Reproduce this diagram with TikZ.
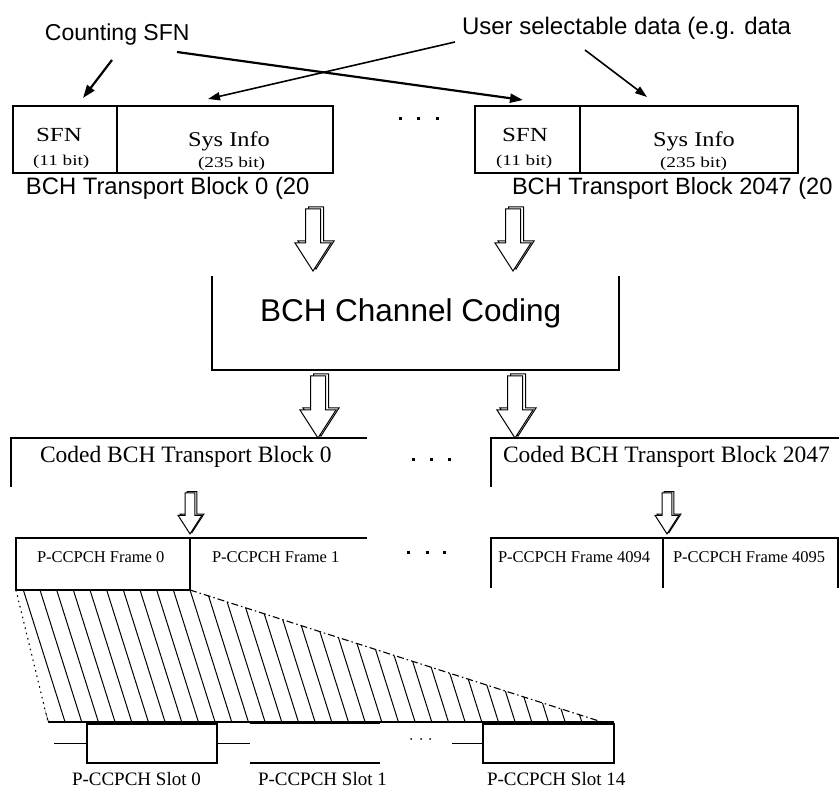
\documentclass[tikz,border=0pt]{standalone}
\usepackage{fontspec}
\setmainfont{Liberation Serif}
\setsansfont{Liberation Sans}
\usepackage{graphicx}
\usetikzlibrary{arrows.meta}
\newcommand{\wx}[2]{\scalebox{#1}[1]{#2}}
\newcommand{\fsz}[1]{\fontsize{#1}{#1}\selectfont}
\begin{document}
\begin{tikzpicture}[x=1pt,y=-1pt,
  thinline/.style={line width=1.2pt},
  box/.style={draw, line width=1.2pt, inner sep=0pt, outer sep=0pt, anchor=north west},
  frame/.style={inner sep=0pt, outer sep=0pt, anchor=north west},
  lbl/.style={inner sep=0pt, outer sep=0pt, anchor=base west},
  sanslbl/.style={lbl, font=\sffamily},
  ptr/.style={line width=1.6pt, -{Triangle[length=12pt,width=8pt]}},
  thickptr/.style={line width=2.2pt, -{Triangle[length=13pt,width=9pt]}},
  hatchline/.style={line width=1pt},
  dotsq/.style={fill=black},
  hollow arrow/.pic={
    \path[draw, line width=1pt, shift={(3,-2)}] (-7.5,0) -- (7.5,0) -- (7.5,34) -- (18,34) -- (0,62) -- (-18,34) -- (-7.5,34) -- cycle;
    \path[draw, fill=white, line width=1pt] (-7.5,0) -- (7.5,0) -- (7.5,34) -- (18,34) -- (0,62) -- (-18,34) -- (-7.5,34) -- cycle;
  }
]
\useasboundingbox[fill=white] (0,0) rectangle (839,791);

% ---------- top labels ----------
\node[sanslbl, font=\sffamily\fsz{23}] (cnt) at (45,41) {Counting SFN};
\node[sanslbl, font=\sffamily\fsz{24}] (usr) at (462,35) {User selectable data (e.g. data};

% ---------- transport blocks ----------
\node[box, minimum width=104pt, minimum height=67pt] (sfnA) at (13,106) {};
\node[box, minimum width=216pt, minimum height=67pt] (sysA) at (117,106) {};
\node[box, minimum width=105pt, minimum height=67pt] (sfnB) at (475,106) {};
\node[box, minimum width=218pt, minimum height=67pt] (sysB) at (580,106) {};

\node[lbl, font=\fsz{20}] (sfnAt) at (36,142) {\wx{1.25}{SFN}};
\node[lbl, font=\fsz{15}] (sfnAb) at (33,166) {\wx{1.28}{(11 bit)}};
\node[lbl, font=\fsz{21}] (sysAt) at (188,147) {\wx{1.16}{Sys Info}};
\node[lbl, font=\fsz{15}] (sysAb) at (198,168) {\wx{1.29}{(235 bit)}};
\node[lbl, font=\fsz{20}] (sfnBt) at (502,142) {\wx{1.25}{SFN}};
\node[lbl, font=\fsz{15}] (sfnBb) at (496,166) {\wx{1.28}{(11 bit)}};
\node[lbl, font=\fsz{21}] (sysBt) at (653,147) {\wx{1.16}{Sys Info}};
\node[lbl, font=\fsz{15}] (sysBb) at (660,168) {\wx{1.29}{(235 bit)}};

\node[sanslbl, font=\sffamily\fsz{23.8}] (tbA) at (26,195) {BCH Transport Block 0 (20};
\node[sanslbl, font=\sffamily\fsz{23.6}] (tbB) at (512,195) {BCH Transport Block 2047 (20};

\foreach \xx in {400,418,437} \fill[dotsq] ({\xx-1.5},117.5) rectangle ({\xx+1.5},120.5);

% ---------- pointers ----------
\coordinate (c1s) at (112,60);  \coordinate (c1e) at (83,98);
\coordinate (c2s) at (177,52);  \coordinate (c2e) at (523,100);
\coordinate (u1s) at (455,42);  \coordinate (u1e) at (208,99);
\coordinate (u2s) at (585,50);  \coordinate (u2e) at (647,97);
\draw[thickptr] (c1s) -- (c1e);
\draw[thickptr] (c2s) -- (c2e);
\draw[ptr] (u1s) -- (u1e);
\draw[ptr] (u2s) -- (u2e);

% ---------- channel coding ----------
\pic (ha1) at (313,209) {hollow arrow};
\pic (ha2) at (513,209) {hollow arrow};
\node[frame, minimum width=407pt, minimum height=94pt] (cc) at (212,276) {};
\draw[thinline] (cc.north west) -- (cc.south west) -- (cc.south east) -- (cc.north east);
\node[sanslbl, font=\sffamily\fsz{31.5}] (cct) at (260,322) {BCH Channel Coding};

% ---------- coded blocks ----------
\pic (ha3) at (318,376) {hollow arrow};
\pic (ha4) at (515,376) {hollow arrow};
\node[frame, minimum width=356pt, minimum height=49pt] (cb0) at (11,438) {};
\draw[thinline] (cb0.north east) -- (cb0.north west) -- (cb0.south west);
\node[frame, minimum width=348pt, minimum height=49pt] (cb1) at (491,438) {};
\draw[thinline] (cb1.north east) -- (cb1.north west) -- (cb1.south west);
\node[lbl, font=\fsz{23.5}] (cb0t) at (40,463) {Coded BCH Transport Block 0};
\node[lbl, font=\fsz{23.5}] (cb1t) at (503,463) {Coded BCH Transport Block 2047};
\foreach \xx in {413,431,449} \fill[dotsq] ({\xx-1.5},458.5) rectangle ({\xx+1.5},461.5);

% ---------- frames ----------
\pic[scale=0.66] (ha5) at (190,493) {hollow arrow};
\pic[scale=0.66] (ha6) at (667,493) {hollow arrow};
\node[box, minimum width=174pt, minimum height=52pt] (fr0) at (16,538) {};
\draw[line width=2.6pt] (fr0.north east) -- (fr0.south east);
\node[frame, minimum width=177pt, minimum height=52pt] (fr1) at (190,538) {};
\draw[thinline] (fr1.north west) -- (fr1.north east);
\node[frame, minimum width=172pt, minimum height=50pt] (fr4094) at (491,538) {};
\draw[thinline] (fr4094.south west) -- (fr4094.north west) -- (fr4094.north east) -- (fr4094.south east);
\node[frame, minimum width=175pt, minimum height=50pt] (fr4095) at (663,538) {};
\draw[thinline] (fr4095.north west) -- (fr4095.north east) -- (fr4095.south east);
\node[lbl, font=\fsz{16.5}] (fr0t) at (37,563) {P-CCPCH Frame 0};
\node[lbl, font=\fsz{16.5}] (fr1t) at (212,563) {P-CCPCH Frame 1};
\node[lbl, font=\fsz{16.5}] (fr4094t) at (498,563) {P-CCPCH Frame 4094};
\node[lbl, font=\fsz{16.5}] (fr4095t) at (673,563) {P-CCPCH Frame 4095};
\foreach \xx in {408,427,444} \fill[dotsq] ({\xx-1.5},551.5) rectangle ({\xx+1.5},554.5);

% ---------- expansion (hatched) ----------
\coordinate (hTL) at (16,590);
\coordinate (hTR) at (190,590);
\coordinate (hBR) at (602,722);
\coordinate (hBL) at (48,722);
\begin{scope}
  \clip (hTL) -- (hTR) -- (hBR) -- (hBL) -- cycle;
  \foreach \k in {-4,...,36} {
    \draw[hatchline] ({23.33+16.67*\k-1.58},585) -- ({23.33+16.67*\k+43.3},727);
  }
\end{scope}
\draw[line width=1.1pt, dash pattern=on 1.5pt off 4pt] (hTL) -- (hBL);
\draw[line width=1.1pt, dash pattern=on 7pt off 3pt on 1.5pt off 3pt] (hTR) -- (hBR);

% ---------- slots ----------
\coordinate (slEnd) at (614,722);
\draw[thinline] (hBL) -- (slEnd);
\node[box, minimum width=130pt, minimum height=39pt] (sl0) at (87,724) {};
\draw[line width=2pt] (sl0.north west) -- (sl0.north east);
\draw[thinline] (sl0.west) -- +(-33,0);
\draw[thinline] (sl0.east) -- +(33,0);
\node[frame, minimum width=130pt, minimum height=40pt] (sl1) at (250,723) {};
\draw[line width=2pt] (sl1.north west) -- (sl1.north east);
\draw[thinline] (sl1.south west) -- (sl1.south east);
\node[box, minimum width=131pt, minimum height=39pt] (sl14) at (483,724) {};
\draw[line width=2pt] (sl14.north west) -- (sl14.north east);
\draw[thinline] (sl14.west) -- +(-31,0);
\foreach \xx in {411,421,430} \fill[dotsq] (\xx,739) circle (1pt);
\node[lbl, font=\fsz{19}] (sl0t) at (72,785) {P-CCPCH Slot 0};
\node[lbl, font=\fsz{19}] (sl1t) at (258,785) {P-CCPCH Slot 1};
\node[lbl, font=\fsz{19}] (sl14t) at (487,785) {P-CCPCH Slot 14};
\end{tikzpicture}
\end{document}
